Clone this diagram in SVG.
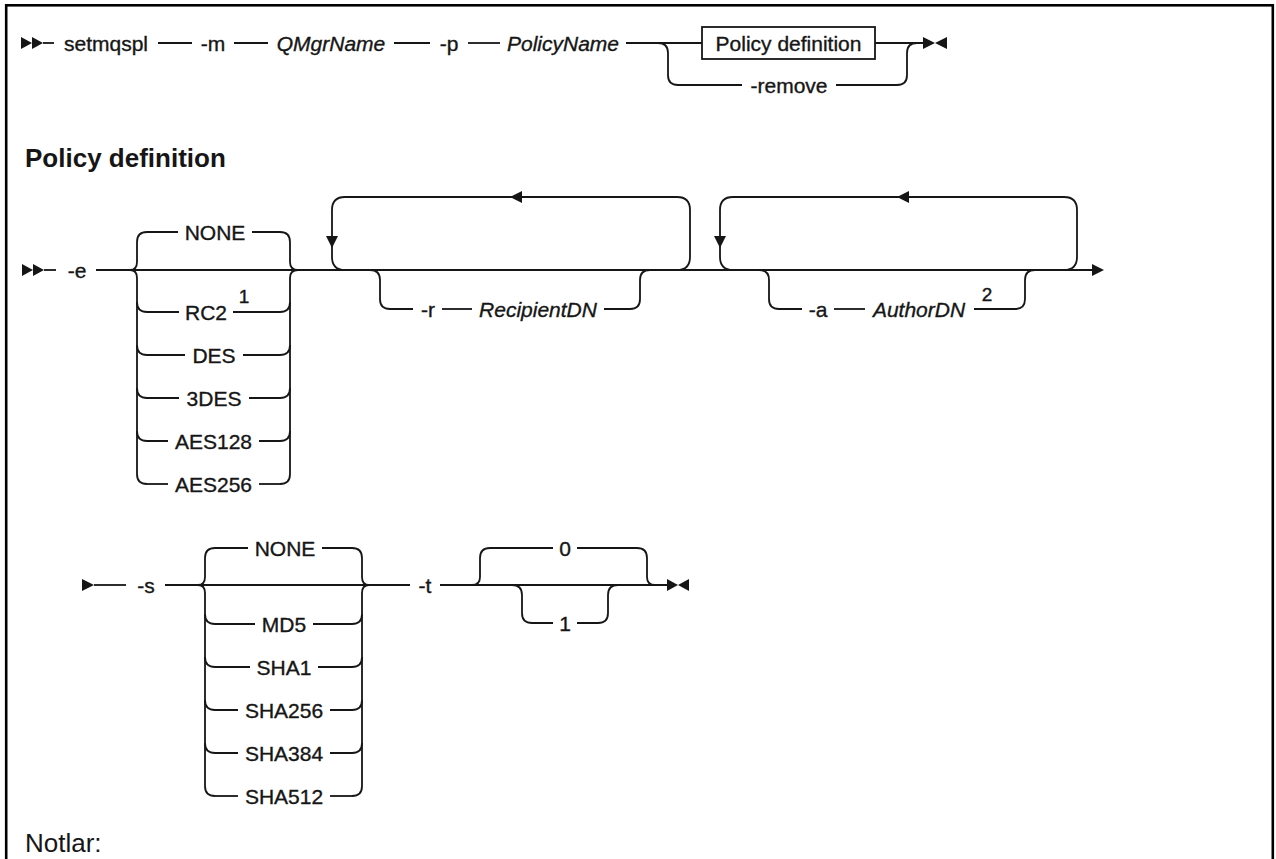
<svg xmlns="http://www.w3.org/2000/svg" width="1276" height="859" viewBox="0 0 1276 859">
<style>
.t{font-family:"Liberation Sans",Arial,sans-serif;font-size:21px;fill:#161616;stroke:#161616;stroke-width:0.35}
.i{font-style:italic}
.m{text-anchor:middle}
.h{font-family:"Liberation Sans",Arial,sans-serif;font-size:26px;font-weight:bold;fill:#161616}
.n{font-family:"Liberation Sans",Arial,sans-serif;font-size:26px;fill:#161616}
.sup{font-family:"Liberation Sans",Arial,sans-serif;font-size:19px;fill:#161616;stroke:#161616;stroke-width:0.4;text-anchor:middle}
.c path,.c line{fill:none;stroke:#161616;stroke-width:1.8}
.c polygon{fill:#161616;stroke:none}
.box{fill:#fff;stroke:#161616;stroke-width:1.8}
</style>
<rect x="6.2" y="5.3" width="1266.6" height="900" fill="#fff" stroke="#000" stroke-width="2.6"/>

<g id="connectors" class="c">
  <!-- Row 1 -->
  <polygon points="21,37 32,43 21,49"/>
  <polygon points="32,37 43,43 32,49"/>
  <line x1="43" y1="43" x2="54" y2="43"/>
  <line x1="158" y1="43" x2="192" y2="43"/>
  <line x1="234" y1="43" x2="268" y2="43"/>
  <line x1="394" y1="43" x2="430" y2="43"/>
  <line x1="468" y1="43" x2="500" y2="43"/>
  <line x1="626" y1="43" x2="702" y2="43"/>
  <path d="M658 43 Q668 43 668 53 L668 75 Q668 85 678 85 L742 85"/>
  <path d="M836 85 L897 85 Q907 85 907 75 L907 53 Q907 43 917 43"/>
  <line x1="875" y1="43" x2="923" y2="43"/>
  <polygon points="923,37 935,43 923,49"/>
  <polygon points="947,37 935,43 947,49"/>

  <!-- Row 2 -->
  <polygon points="22,264 33,270 22,276"/>
  <polygon points="33,264 44,270 33,276"/>
  <line x1="44" y1="270" x2="56" y2="270"/>
  <line x1="96" y1="270" x2="1093" y2="270"/>
  <polygon points="1092,264 1104,270 1092,276"/>
  <!-- -e choice -->
  <path d="M130 270 Q137 270 137 262 L137 242 Q137 232 147 232 L178 232"/>
  <path d="M252 232 L280 232 Q290 232 290 242 L290 262 Q290 270 298 270"/>
  <path d="M130 270 Q137 270 137 278 L137 474 Q137 484 147 484"/>
  <path d="M298 270 Q290 270 290 278 L290 474 Q290 484 280 484"/>
  <path d="M137 302 Q137 312 147 312 L179 312"/>
  <path d="M233 312 L280 312 Q290 312 290 302"/>
  <path d="M137 345 Q137 355 147 355 L185 355"/>
  <path d="M243 355 L280 355 Q290 355 290 345"/>
  <path d="M137 388 Q137 398 147 398 L179 398"/>
  <path d="M249 398 L280 398 Q290 398 290 388"/>
  <path d="M137 431 Q137 441 147 441 L168 441"/>
  <path d="M259 441 L280 441 Q290 441 290 431"/>
  <path d="M147 484 L168 484"/>
  <path d="M259 484 L280 484"/>
  <!-- loop 1 -->
  <path d="M345 270 Q332 270 332 257 L332 210 Q332 197 345 197 L677 197 Q690 197 690 210 L690 257 Q690 270 677 270"/>
  <polygon points="510,197 522,191 522,203"/>
  <polygon points="326,236 338,236 332,248"/>
  <path d="M370 270 Q380 270 380 280 L380 299 Q380 309 390 309 L413 309"/>
  <line x1="442" y1="309" x2="472" y2="309"/>
  <path d="M604 309 L630 309 Q640 309 640 299 L640 280 Q640 270 650 270"/>
  <!-- loop 2 -->
  <path d="M733 270 Q720 270 720 257 L720 210 Q720 197 733 197 L1064 197 Q1077 197 1077 210 L1077 257 Q1077 270 1064 270"/>
  <polygon points="897,197 909,191 909,203"/>
  <polygon points="714,236 726,236 720,248"/>
  <path d="M759 270 Q769 270 769 280 L769 299 Q769 309 779 309 L802 309"/>
  <line x1="834" y1="309" x2="865" y2="309"/>
  <path d="M974 309 L1015 309 Q1025 309 1025 299 L1025 280 Q1025 270 1035 270"/>

  <!-- Row 3 -->
  <polygon points="82,579 94,585 82,591"/>
  <line x1="94" y1="585" x2="126" y2="585"/>
  <line x1="165" y1="585" x2="410" y2="585"/>
  <line x1="440" y1="585" x2="667" y2="585"/>
  <path d="M198 585 Q205 585 205 577 L205 558 Q205 548 215 548 L248 548"/>
  <path d="M322 548 L352 548 Q362 548 362 558 L362 577 Q362 585 369 585"/>
  <path d="M198 585 Q205 585 205 593 L205 786 Q205 796 215 796"/>
  <path d="M369 585 Q362 585 362 593 L362 786 Q362 796 352 796"/>
  <path d="M205 614 Q205 624 215 624 L255 624"/>
  <path d="M313 624 L352 624 Q362 624 362 614"/>
  <path d="M205 657 Q205 667 215 667 L250 667"/>
  <path d="M318 667 L352 667 Q362 667 362 657"/>
  <path d="M205 700 Q205 710 215 710 L238 710"/>
  <path d="M330 710 L352 710 Q362 710 362 700"/>
  <path d="M205 743 Q205 753 215 753 L238 753"/>
  <path d="M330 753 L352 753 Q362 753 362 743"/>
  <path d="M215 796 L238 796"/>
  <path d="M330 796 L352 796"/>
  <!-- -t choice -->
  <path d="M472 585 Q480 585 480 577 L480 558 Q480 548 490 548 L553 548"/>
  <path d="M577 548 L637 548 Q647 548 647 558 L647 577 Q647 585 655 585"/>
  <path d="M512 585 Q522 585 522 595 L522 613 Q522 623 532 623 L553 623"/>
  <path d="M577 623 L598 623 Q608 623 608 613 L608 595 Q608 585 618 585"/>
  <polygon points="667,579 678,585 667,591"/>
  <polygon points="689,579 678,585 689,591"/>
</g>

<g id="n-setmqspl"><text class="t m" x="106" y="50.5">setmqspl</text></g>
<g id="n-m"><text class="t m" x="213" y="50.5">-m</text></g>
<g id="n-qmgrname"><text class="t m i" x="331" y="50.5">QMgrName</text></g>
<g id="n-p"><text class="t m" x="449" y="50.5">-p</text></g>
<g id="n-policyname"><text class="t m i" x="563" y="50.5">PolicyName</text></g>
<g id="n-policydef-ref"><rect class="box" x="702" y="27" width="173" height="32"/><text class="t m" x="788.5" y="50.5">Policy definition</text></g>
<g id="n-remove"><text class="t m" x="789" y="92.5">-remove</text></g>

<g id="n-heading"><text class="h" x="25" y="167">Policy definition</text></g>

<g id="n-e"><text class="t m" x="77" y="277.5">-e</text></g>
<g id="n-e-none"><text class="t m" x="215" y="239.5">NONE</text></g>
<g id="n-rc2"><text class="t m" x="206" y="319.5">RC2</text><text class="sup" x="244" y="303">1</text></g>
<g id="n-des"><text class="t m" x="214" y="362.5">DES</text></g>
<g id="n-3des"><text class="t m" x="214" y="405.5">3DES</text></g>
<g id="n-aes128"><text class="t m" x="213.5" y="448.5">AES128</text></g>
<g id="n-aes256"><text class="t m" x="213.5" y="491.5">AES256</text></g>
<g id="n-r"><text class="t m" x="428" y="316.5">-r</text></g>
<g id="n-recipientdn"><text class="t m i" x="538" y="316.5">RecipientDN</text></g>
<g id="n-a"><text class="t m" x="818" y="316.5">-a</text></g>
<g id="n-authordn"><text class="t m i" x="919" y="316.5">AuthorDN</text><text class="sup" x="987" y="301">2</text></g>

<g id="n-s"><text class="t m" x="146" y="592.5">-s</text></g>
<g id="n-s-none"><text class="t m" x="285" y="555.5">NONE</text></g>
<g id="n-md5"><text class="t m" x="284" y="631.5">MD5</text></g>
<g id="n-sha1"><text class="t m" x="284" y="674.5">SHA1</text></g>
<g id="n-sha256"><text class="t m" x="284" y="717.5">SHA256</text></g>
<g id="n-sha384"><text class="t m" x="284" y="760.5">SHA384</text></g>
<g id="n-sha512"><text class="t m" x="284" y="803.5">SHA512</text></g>
<g id="n-t"><text class="t m" x="425" y="592.5">-t</text></g>
<g id="n-t0"><text class="t m" x="565" y="555.5">0</text></g>
<g id="n-t1"><text class="t m" x="565" y="630.5">1</text></g>

<g id="n-notes"><text class="n" x="25" y="852">Notlar:</text></g>
</svg>
